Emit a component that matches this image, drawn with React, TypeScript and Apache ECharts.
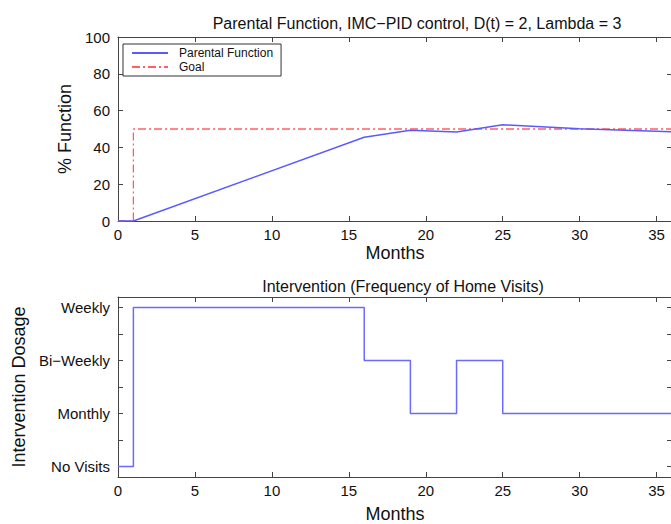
import React, { useEffect, useRef } from "react";
import * as echarts from "echarts";

const parentalMonths = [0, 1, 16, 19, 22, 25, 30, 36];
const parentalValues = [0, 0, 45.5, 49.3, 48.4, 52.3, 50.2, 48.5];
const goalMonths = [0, 1, 1, 36];
const goalValues = [0, 0, 50, 50];
const doseMonths = [0, 1, 16, 19, 22, 25, 36];
const doseLevels = [0, 3, 2, 1, 2, 1, 1];
const doseLabels = ["No Visits", "Monthly", "Bi−Weekly", "Weekly"];
const monthTicks = [0, 5, 10, 15, 20, 25, 30, 35];
const doseTicks = [0, 0.5, 1, 1.5, 2, 2.5, 3];

const FONT = "Liberation Sans, Arial, sans-serif";
const AXIS = "#444";
const TXT = "#111";

export default function App() {
  const ref = useRef<HTMLDivElement>(null);
  useEffect(() => {
    if (!ref.current) return;
    const chart = echarts.init(ref.current, null, { renderer: "svg" });
    const zip = (a: number[], b: number[]) => a.map((x, i) => [x, b[i]]);
    const lineAx = { show: true, onZero: false, lineStyle: { color: AXIS, width: 1 } };
    const tick = { show: true, inside: true, length: 5, lineStyle: { color: AXIS } };
    const lbl = { color: TXT, fontFamily: FONT, fontSize: 15 };
    const xBottom = (grid: number, gap: number) => ({
      type: "value", gridIndex: grid, min: 0, max: 36, position: "bottom",
      axisLine: lineAx, splitLine: { show: false },
      axisTick: { ...tick, customValues: monthTicks },
      axisLabel: { ...lbl, margin: 6, customValues: monthTicks },
      name: "Months", nameLocation: "middle", nameGap: gap,
      nameTextStyle: { color: TXT, fontFamily: FONT, fontSize: 18 },
    });
    const xTop = (grid: number) => ({
      type: "value", gridIndex: grid, min: 0, max: 36, position: "top",
      axisLine: lineAx, splitLine: { show: false },
      axisTick: { ...tick, customValues: monthTicks },
      axisLabel: { show: false },
    });
    chart.setOption({
      animation: false,
      backgroundColor: "#fff",
      title: [
        { text: "Parental Function, IMC−PID control, D(t) = 2, Lambda = 3", left: 412, top: 10, textAlign: "center",
          textStyle: { fontFamily: FONT, fontSize: 16, fontWeight: "normal", color: TXT } },
        { text: "Intervention (Frequency of Home Visits)", left: 398, top: 273, textAlign: "center",
          textStyle: { fontFamily: FONT, fontSize: 16, fontWeight: "normal", color: TXT } },
      ],
      legend: {
        data: ["Parental Function", "Goal"], orient: "vertical", left: 123, top: 44,
        backgroundColor: "#fff", borderColor: "#333", borderWidth: 1, borderRadius: 0,
        padding: [3, 8, 3, 8], itemGap: 2, itemWidth: 36, itemHeight: 12,
        itemStyle: { opacity: 0 },
        textStyle: { fontFamily: FONT, fontSize: 12, color: TXT, padding: [0, 0, 0, 6] },
      },
      grid: [
        { left: 118, top: 37, width: 554, height: 184 },
        { left: 118, top: 297, width: 554, height: 183 },
      ],
      xAxis: [xBottom(0, 23), xTop(0), xBottom(1, 28), xTop(1)],
      yAxis: [
        { type: "value", gridIndex: 0, min: 0, max: 100, interval: 20, position: "left",
          axisLine: lineAx, axisTick: tick, splitLine: { show: false },
          axisLabel: { ...lbl, margin: 8 },
          name: "% Function", nameLocation: "middle", nameGap: 40, nameRotate: 90,
          nameTextStyle: { color: TXT, fontFamily: FONT, fontSize: 18 } },
        { type: "value", gridIndex: 0, min: 0, max: 100, interval: 20, position: "right",
          axisLine: lineAx, axisTick: tick, splitLine: { show: false }, axisLabel: { show: false } },
        { type: "value", gridIndex: 1, min: -0.2, max: 3.2, position: "left",
          axisLine: lineAx, splitLine: { show: false },
          axisTick: { ...tick, customValues: doseTicks },
          axisLabel: { ...lbl, margin: 8, customValues: [0, 1, 2, 3], formatter: (v: number) => doseLabels[Math.round(v)] },
          name: "Intervention Dosage", nameLocation: "middle", nameGap: 87, nameRotate: 90,
          nameTextStyle: { color: TXT, fontFamily: FONT, fontSize: 18 } },
        { type: "value", gridIndex: 1, min: -0.2, max: 3.2, position: "right",
          axisLine: lineAx, splitLine: { show: false },
          axisTick: { ...tick, customValues: doseTicks }, axisLabel: { show: false } },
      ],
      series: [
        { name: "Goal", type: "line", xAxisIndex: 0, yAxisIndex: 0, data: zip(goalMonths, goalValues),
          symbol: "none", lineStyle: { color: "#ff6060", width: 1.3, type: [8, 3, 2, 3] }, itemStyle: { color: "#ff6060" }, z: 2 },
        { name: "Parental Function", type: "line", xAxisIndex: 0, yAxisIndex: 0, data: zip(parentalMonths, parentalValues),
          symbol: "none", lineStyle: { color: "#5a5aff", width: 1.5 }, itemStyle: { color: "#5a5aff" }, z: 3 },
        { name: "Intervention", type: "line", xAxisIndex: 2, yAxisIndex: 2, data: zip(doseMonths, doseLevels),
          step: "end", symbol: "none", lineStyle: { color: "#6a6aff", width: 1.5 } },
      ],
    });
    return () => chart.dispose();
  }, []);
  return (
    <div style={{ position: "fixed", left: 0, top: 0, width: 671, height: 524, overflow: "hidden", background: "#fff" }}>
      <div ref={ref} style={{ width: 680, height: 524 }} />
    </div>
  );
}
